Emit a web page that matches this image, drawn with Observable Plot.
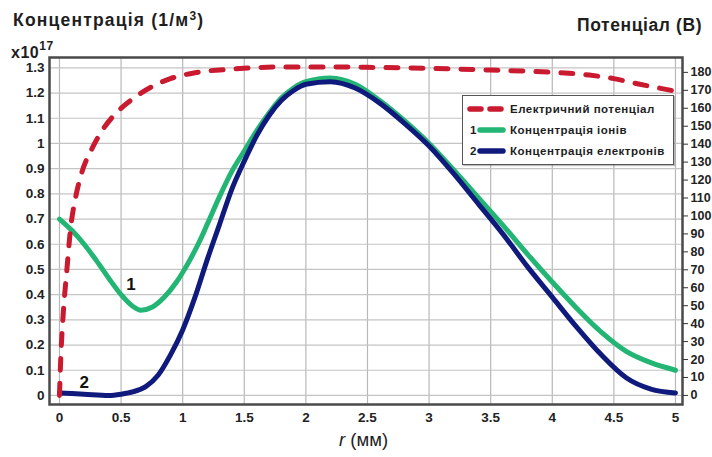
<!DOCTYPE html>
<html><head><meta charset="utf-8">
<script src="https://cdn.jsdelivr.net/npm/d3@7"></script>
<script src="https://cdn.jsdelivr.net/npm/@observablehq/plot@0.6"></script>
<style>
body{margin:0;background:#fff;}
#wrap{position:relative;width:712px;height:457px;font-family:"Liberation Sans",Arial,sans-serif;color:#1e1e1e;}
.t{position:absolute;font-weight:bold;white-space:nowrap;line-height:1;}
#legend{position:absolute;left:462px;top:95px;width:210px;height:68px;border:1.5px solid #555;background:#fff;box-shadow:1px 1px 1px rgba(0,0,0,0.25);}
#legend .row{position:absolute;left:0;height:16px;font-weight:bold;font-size:11.5px;line-height:16px;letter-spacing:0.5px;}
#legend .row span{position:absolute;white-space:nowrap;}
</style></head><body><div id="wrap"></div>
<script>
// --- data ---
const potR = [0, 0.01, 0.03, 0.06, 0.09, 0.13, 0.18, 0.26, 0.36, 0.47, 0.6, 0.75, 0.9, 1.1, 1.4, 1.8, 2.2, 2.6, 3.0, 3.5, 4.0, 4.3, 4.5, 4.7, 4.85, 5.0];
const potV = [0, 20, 45, 70, 93, 110, 124, 137, 149, 158, 165.5, 172, 176.5, 179.8, 181.8, 183, 183, 182.7, 182.2, 181.3, 180, 178.5, 176.5, 173.5, 171.5, 169.5];

const ionR = [0, 0.1, 0.2, 0.3, 0.4, 0.5, 0.6, 0.66, 0.75, 0.85, 0.95, 1.05, 1.14, 1.2, 1.3, 1.4, 1.5, 1.6, 1.7, 1.8, 1.9, 2.0, 2.2, 2.4, 2.6, 2.8, 3.0, 3.2, 3.4, 3.6, 3.8, 4.0, 4.2, 4.4, 4.6, 4.8, 5.0];
const ionC = [0.70, 0.655, 0.60, 0.535, 0.465, 0.40, 0.352, 0.338, 0.35, 0.39, 0.45, 0.53, 0.615, 0.68, 0.79, 0.89, 0.97, 1.05, 1.12, 1.18, 1.22, 1.245, 1.26, 1.235, 1.17, 1.09, 1.0, 0.895, 0.785, 0.675, 0.56, 0.45, 0.345, 0.25, 0.175, 0.13, 0.10];

const eleR = [0, 0.2, 0.4, 0.5, 0.6, 0.7, 0.8, 0.9, 1.0, 1.1, 1.2, 1.3, 1.4, 1.5, 1.6, 1.7, 1.8, 1.9, 2.0, 2.2, 2.4, 2.6, 2.8, 3.0, 3.2, 3.4, 3.6, 3.8, 4.0, 4.2, 4.4, 4.6, 4.8, 5.0];
const eleC = [0.01, 0.005, 0.0, 0.005, 0.015, 0.035, 0.08, 0.16, 0.26, 0.39, 0.54, 0.68, 0.82, 0.93, 1.03, 1.11, 1.17, 1.21, 1.235, 1.245, 1.22, 1.16, 1.08, 0.99, 0.88, 0.76, 0.64, 0.51, 0.39, 0.27, 0.16, 0.07, 0.025, 0.01];

const xTicks = [0, 0.5, 1, 1.5, 2, 2.5, 3, 3.5, 4, 4.5, 5];
const yTicks = [0, 0.1, 0.2, 0.3, 0.4, 0.5, 0.6, 0.7, 0.8, 0.9, 1, 1.1, 1.2, 1.3];
const vTicks = [0, 10, 20, 30, 40, 50, 60, 70, 80, 90, 100, 110, 120, 130, 140, 150, 160, 170, 180];

const curveLabels = ["1", "2"];
const curveLabelR = [0.58, 0.2];
const curveLabelC = [0.44, 0.05];

const seriesNames = ["Електричний потенціал", "Концентрація іонів", "Концентрація електронів"];
const colors = {pot: "#c91a30", ion: "#22b573", ele: "#0f1a7c"};

// potential axis (right) → concentration scale (left): 180 V ≈ 1.282
const k = 1.282 / 180;

const pot = potR.map((r, i) => ({r, v: potV[i]}));
const ions = ionR.map((r, i) => ({r, c: ionC[i]}));
const ele = eleR.map((r, i) => ({r, c: eleC[i]}));
const labs = curveLabels.map((t, i) => ({t, r: curveLabelR[i], c: curveLabelC[i]}));

const chart = Plot.plot({
  width: 712, height: 457,
  marginLeft: 49, marginRight: 30, marginTop: 57, marginBottom: 53,
  style: {fontFamily: "'Liberation Sans', Arial, sans-serif", fontSize: "13px", fontWeight: "bold", color: "#222", background: "white"},
  x: {domain: [-0.081, 5.057], label: null},
  y: {domain: [-0.036, 1.341], label: null},
  marks: [
    Plot.gridX(xTicks, {stroke: "#b8b8b8", strokeOpacity: 1, strokeWidth: 1.2}),
    Plot.gridY(yTicks, {stroke: "#c4c4c4", strokeOpacity: 1, strokeWidth: 1.2}),
    Plot.line(ions, {x: "r", y: "c", stroke: colors.ion, strokeWidth: 5, curve: "monotone-x"}),
    Plot.line(ele, {x: "r", y: "c", stroke: colors.ele, strokeWidth: 5, curve: "monotone-x"}),
    Plot.line(pot, {x: "r", y: d => d.v * k, stroke: colors.pot, strokeWidth: 5, strokeDasharray: "12,13", strokeLinecap: "round", curve: "monotone-x"}),
    Plot.text(labs, {x: "r", y: "c", text: "t", fontSize: 17, fontWeight: "bold", fill: "#111"}),
    Plot.frame({stroke: "#4a4a4a", strokeWidth: 2.5}),
    Plot.axisX(xTicks, {tickSize: 0, tickPadding: 8, tickFormat: d => String(d), label: null, fontSize: 13.5}),
    Plot.axisY(yTicks, {anchor: "left", tickSize: 0, tickPadding: 5, tickFormat: d => String(d), label: null, fontSize: 13.5}),
    Plot.axisY(vTicks.map(v => v * k), {anchor: "right", tickSize: 5, tickPadding: 3, tickFormat: d => String(Math.round(d / k)), label: null, fontSize: 12.5, stroke: "#333"})
  ]
});

const wrap = document.getElementById("wrap");
wrap.appendChild(chart);
chart.style.position = "absolute"; chart.style.left = "0"; chart.style.top = "0";

function addText(html, left, top, size, extra) {
  const d = document.createElement("div");
  d.className = "t";
  d.innerHTML = html;
  d.style.left = left + "px"; d.style.top = top + "px"; d.style.fontSize = size + "px";
  if (extra) Object.assign(d.style, extra);
  wrap.appendChild(d);
}
addText("Концентрація (1/м<sup style='font-size:12px;vertical-align:6px'>3</sup>)", 13, 10, 17.5, {letterSpacing: "1.2px"});
addText("x10<sup style='font-size:12px;vertical-align:8px'>17</sup>", 11, 40, 16, {letterSpacing: "0.5px"});
addText("Потенціал (В)", 577, 17, 17.5, {letterSpacing: "0.6px"});
addText("<i>r</i> <span style='font-weight:normal'>(мм)</span>", 339, 431, 18.5, {fontWeight: "normal"});

// legend
const lg = document.createElement("div");
lg.id = "legend";
const swatches = [
  `<svg width="38" height="10" style="position:absolute;left:4px;top:3px"><line x1="3" y1="5" x2="36" y2="5" stroke="${colors.pot}" stroke-width="5.5" stroke-dasharray="11,9" stroke-linecap="round"/></svg>`,
  `<span style="left:7px;top:0">1</span><svg width="30" height="10" style="position:absolute;left:14px;top:3px"><line x1="3" y1="5" x2="26" y2="5" stroke="${colors.ion}" stroke-width="5.5" stroke-linecap="round"/></svg>`,
  `<span style="left:7px;top:0">2</span><svg width="30" height="10" style="position:absolute;left:14px;top:3px"><line x1="3" y1="5" x2="26" y2="5" stroke="${colors.ele}" stroke-width="5.5" stroke-linecap="round"/></svg>`
];
seriesNames.forEach((name, i) => {
  const row = document.createElement("div");
  row.className = "row";
  row.style.top = (5 + i * 21) + "px";
  row.style.width = "210px";
  row.innerHTML = swatches[i] + `<span style="left:47px;top:0">${name}</span>`;
  lg.appendChild(row);
});
wrap.appendChild(lg);
</script>
</body></html>
